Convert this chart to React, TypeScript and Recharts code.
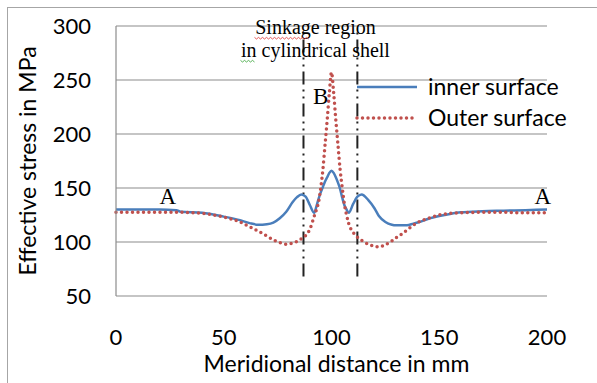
import React from "react";
import {
    LineChart,
    Line,
    XAxis,
    YAxis,
    CartesianGrid,
    ReferenceLine,
    ReferenceDot,
    Legend,
} from "recharts";

// meridional distance (mm)
const distance = [
    0, 10, 20, 28, 30, 40, 50, 57, 62, 66,
    70, 73, 76, 79, 82, 84, 86, 88, 90, 92,
    93, 94, 95, 96, 97, 98, 99, 100, 101, 102,
    103, 104, 105, 106, 107, 108, 110, 112, 114, 117,
    120, 122, 125, 128, 130, 132, 135, 138, 140, 145,
    150, 155, 160, 170, 180, 190, 200,
];

// effective stress (MPa)
const innerSurface = [
    130, 130, 130, 129.5, 128, 127, 123.5, 120.5, 117.5, 116,
    116.5, 118, 122, 128, 137, 141.5, 144, 142, 134, 127,
    133, 140, 146, 151, 156, 160, 164, 166, 164, 160,
    155, 149, 141, 134, 130, 127, 135, 142, 144, 139,
    131, 124, 118.5, 116, 115.5, 115.5, 115.5, 117, 118, 121.5,
    124, 126, 127.5, 128.5, 129, 129.5, 130,
];

const outerSurface = [
    127.5, 127.5, 127.5, 127.5, 127.5, 126.5, 123, 119, 114, 110,
    105.5, 102, 99.5, 98, 99, 100.5, 103, 106, 112, 124,
    130, 137, 150, 167, 190, 213, 238, 257, 238, 213,
    190, 167, 150, 135, 125, 117, 109, 104.5, 101.5, 98,
    96, 95.5, 97.5, 101, 104, 106.5, 111, 115.5, 118, 122,
    125, 126.5, 127, 127.5, 127.5, 127, 127,
];

const seriesNames = ["inner surface", "Outer surface"];
const xTicks = [0, 50, 100, 150, 200];
const yTicks = [50, 100, 150, 200, 250, 300];
const sinkageBounds = [87, 112];

const data = distance.map((d, i) => ({
    d,
    inner: innerSurface[i],
    outer: outerSurface[i],
}));

const SANS = "Lato, 'Open Sans', sans-serif";
const SERIF = "'Liberation Serif', 'DejaVu Serif', serif";
const BLUE = "#4a7ebb";
const RED = "#c0504d";
const GRID = "#8c8c8c";

const XTick = ({ x, y, payload }: any) => (
    <text x={x} y={y + 41} textAnchor="middle" fontFamily={SANS} fontSize={22} fill="#000">
        {payload.value}
    </text>
);

const YTick = ({ x, y, payload }: any) => (
    <text x={x - 17} y={y} dy="0.36em" textAnchor="end" fontFamily={SANS} fontSize={22} fill="#000">
        {payload.value}
    </text>
);

const wave = (x0: number, x1: number, y: number) => {
    let p = `M${x0},${y}`;
    let k = 0;
    for (let x = x0 + 2; x <= x1; x += 2, k++) p += ` L${x},${k % 2 ? y : y + 1.6}`;
    return p;
};

const SinkageLabel = (props: any) => {
    const vb = props.viewBox || {};
    const cx = vb.x + (vb.width || 0) / 2 - 16;
    const cy = vb.y + (vb.height || 0) / 2;
    return (
        <g>
            <text x={cx} y={cy + 3} textAnchor="middle" fontFamily={SERIF} fontSize={20} fill="#000">
                Sinkage region
            </text>
            <text x={cx} y={cy + 26} textAnchor="middle" fontFamily={SERIF} fontSize={20} fill="#000">
                in cylindrical shell
            </text>
            <path d={wave(cx - 61, cx - 6, cy + 6)} stroke="#e03030" strokeWidth={0.8} fill="none" />
            <path d={wave(cx - 75, cx - 60, cy + 29)} stroke="#30a030" strokeWidth={0.8} fill="none" />
        </g>
    );
};

const renderLegend = (props: any) => {
    const items = [...(props.payload || [])].sort(
        (a: any, b: any) => seriesNames.indexOf(a.value) - seriesNames.indexOf(b.value)
    );
    return (
        <div style={{ fontFamily: SANS, fontSize: 23, color: "#000" }}>
            {items.map((item: any) => {
                const solid = item.value === seriesNames[0];
                return (
                    <div key={item.value} style={{ display: "flex", alignItems: "center", height: 31 }}>
                        <svg width={64} height={6}>
                            <line
                                x1={2}
                                y1={3}
                                x2={62}
                                y2={3}
                                stroke={item.color}
                                strokeWidth={solid ? 2.5 : 3.5}
                                strokeDasharray={solid ? undefined : "0 5.5"}
                                strokeLinecap={solid ? "butt" : "round"}
                            />
                        </svg>
                        <span style={{ marginLeft: 9, lineHeight: "31px", whiteSpace: "nowrap" }}>{item.value}</span>
                    </div>
                );
            })}
        </div>
    );
};

const annotationLabel = (text: string) => ({
    value: text,
    position: "center" as const,
    fontFamily: SERIF,
    fontSize: 23,
    fill: "#000",
});

export default function App() {
    return (
        <div style={{ position: "absolute", left: 0, top: 0, width: 597, height: 383, overflow: "hidden", background: "#fff" }}>
            <div
                style={{
                    position: "absolute",
                    left: 7,
                    top: 7,
                    width: 620,
                    height: 400,
                    borderLeft: "1.5px solid #a6a6a6",
                    borderTop: "1.5px solid #a6a6a6",
                }}
            />
            <LineChart width={597} height={383} data={data} margin={{ top: 26, right: 50, left: 16, bottom: 7 }}>
                <CartesianGrid vertical={false} stroke={GRID} strokeWidth={1.2} />
                <XAxis
                    dataKey="d"
                    type="number"
                    domain={[0, 200]}
                    ticks={xTicks}
                    axisLine={false}
                    tickLine={false}
                    height={80}
                    tick={<XTick />}
                    label={{
                        value: "Meridional distance in mm",
                        position: "insideBottom",
                        offset: 4,
                        dx: 5,
                        fontFamily: SANS,
                        fontSize: 23,
                        fill: "#000",
                    }}
                />
                <YAxis
                    type="number"
                    domain={[50, 300]}
                    ticks={yTicks}
                    axisLine={{ stroke: GRID, strokeWidth: 1.2 }}
                    tickLine={false}
                    width={100}
                    tick={<YTick />}
                    label={{
                        value: "Effective stress in MPa",
                        angle: -90,
                        position: "insideLeft",
                        offset: 12,
                        fontFamily: SANS,
                        fontSize: 23,
                        fill: "#000",
                        style: { textAnchor: "middle" },
                    }}
                />
                {sinkageBounds.map((b) => (
                    <ReferenceLine
                        key={b}
                        segment={[
                            { x: b, y: 68 },
                            { x: b, y: 297 },
                        ]}
                        stroke="#222"
                        strokeWidth={2}
                        strokeDasharray="13 5 2 5 2 5"
                        ifOverflow="visible"
                    />
                ))}
                <Line
                    type="monotone"
                    dataKey="inner"
                    name={seriesNames[0]}
                    stroke={BLUE}
                    strokeWidth={2.5}
                    dot={false}
                    isAnimationActive={false}
                />
                <Line
                    type="monotone"
                    dataKey="outer"
                    name={seriesNames[1]}
                    stroke={RED}
                    strokeWidth={3.5}
                    strokeDasharray="0 5.5"
                    strokeLinecap="round"
                    dot={false}
                    isAnimationActive={false}
                />
                <ReferenceDot x={24} y={143} r={0} fill="none" stroke="none" label={annotationLabel("A")} />
                <ReferenceDot x={198} y={143} r={0} fill="none" stroke="none" label={annotationLabel("A")} />
                <ReferenceDot x={95} y={235.5} r={0} fill="none" stroke="none" label={annotationLabel("B")} />
                <ReferenceDot x={100} y={295} r={0} fill="none" stroke="none" label={<SinkageLabel />} />
                <Legend
                    layout="vertical"
                    align="center"
                    verticalAlign="middle"
                    content={renderLegend}
                    wrapperStyle={{ left: 355, top: 71, width: "auto" }}
                />
            </LineChart>
        </div>
    );
}
